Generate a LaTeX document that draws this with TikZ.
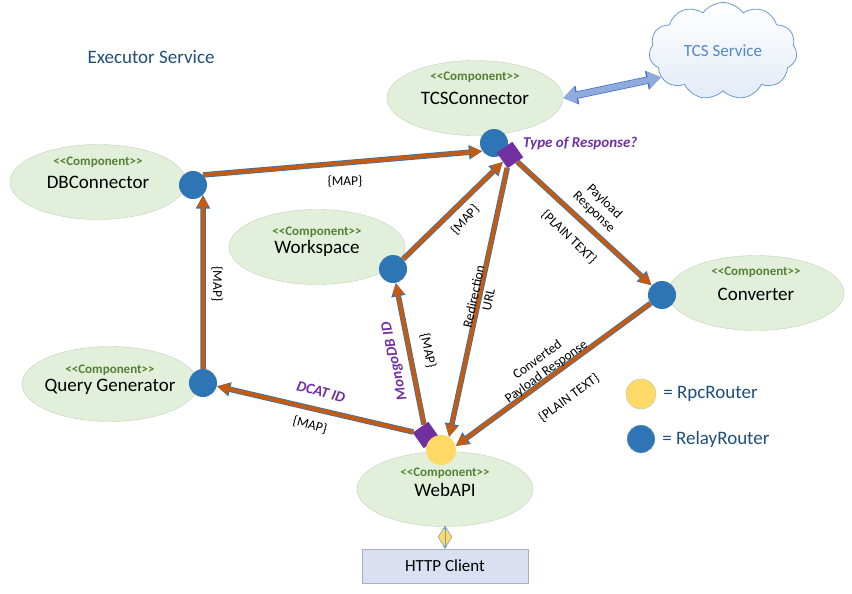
\documentclass[tikz,border=0pt]{standalone}
\usepackage{fontspec}
\setmainfont{Carlito}
\usetikzlibrary{shapes.geometric,shapes.symbols,arrows.meta,positioning}

\definecolor{compfill}{HTML}{E2EFDA}
\definecolor{compdraw}{HTML}{C3CFBA}
\definecolor{stereogreen}{HTML}{548235}
\definecolor{relayblue}{HTML}{2E75B6}
\definecolor{rpcyellow}{HTML}{FFD966}
\definecolor{choicepurple}{HTML}{7030A0}
\definecolor{flowor}{HTML}{C55A11}
\definecolor{titleblue}{HTML}{1F4E79}
\definecolor{cloudline}{HTML}{6C9BCF}
\definecolor{cloudlow}{HTML}{E3EBF6}
\definecolor{cloudtext}{HTML}{4F89C6}
\definecolor{clientfill}{HTML}{DAE0F2}
\definecolor{clientdraw}{HTML}{A3AFCB}
\definecolor{duplexfill}{HTML}{8FAADC}
\definecolor{duplexdraw}{HTML}{4472C4}
\definecolor{legendgray}{HTML}{BFBFBF}

\tikzset{
  comp/.style={ellipse, draw=compdraw, fill=compfill, minimum width=176pt, minimum height=75pt},
  cname/.style={anchor=base, font=\fontsize{19}{22}\selectfont},
  stereo/.style={anchor=base, text=stereogreen, font=\bfseries\fontsize{13}{15}\selectfont},
  relay/.style={circle, fill=relayblue, minimum size=28pt, inner sep=0pt},
  rpc/.style={circle, fill=rpcyellow, minimum size=30pt, inner sep=0pt},
  choice/.style={rectangle, fill=choicepurple, minimum size=19pt, inner sep=0pt, rotate=35},
  flow/.style={draw=flowor, line width=4pt, -{Triangle[length=12pt,width=11pt]},
    preaction={draw=relayblue, line width=5.5pt, -{Triangle[length=13.5pt,width=13.5pt]}}},
  duplex/.style={draw=duplexfill, line width=6pt,
    {Triangle[length=13pt,width=16pt]}-{Triangle[length=13pt,width=16pt]},
    preaction={draw=duplexdraw, line width=7.5pt,
      {Triangle[length=14.5pt,width=18.5pt]}-{Triangle[length=14.5pt,width=18.5pt]}}},
  lbl/.style={align=center, inner sep=1pt, font=\fontsize{13.5}{15}\selectfont},
  tag/.style={inner sep=1pt, text=choicepurple, font=\bfseries\itshape\fontsize{15}{18}\selectfont},
  title/.style={text=titleblue, font=\fontsize{19}{22}\selectfont},
  legend/.style={inner sep=1pt, text=titleblue, font=\fontsize{19}{22}\selectfont},
  cloudbox/.style={cloud, cloud puffs=11, cloud puff arc=110, aspect=1.45, draw=cloudline, thick,
    top color=white, bottom color=cloudlow, minimum width=148pt, minimum height=96pt,
    text=cloudtext, font=\fontsize{17}{20}\selectfont},
  client/.style={rectangle, draw=clientdraw, fill=clientfill, minimum width=166pt,
    minimum height=34pt, font=\fontsize{17}{20}\selectfont},
  hlink/.style={diamond, draw=relayblue!80, fill=rpcyellow, inner sep=0pt,
    minimum width=14pt, minimum height=22pt},
  linkline/.style={draw=relayblue!70, line width=0.6pt,
    {Stealth[length=3pt,width=4pt]}-{Stealth[length=3pt,width=4pt]}},
}

\begin{document}
\begin{tikzpicture}[x=1pt,y=-1pt]
    \useasboundingbox (0,0) rectangle (852,594);

    % Title and external service
    \node[title, anchor=west] (exec) at (84,57) {Executor Service};
    \node[cloudbox] (tcssvc) at (723,51) {TCS Service};

    % Components
    \node[comp] (tcs) at (475,98) {};
    \node[stereo] (tcsstereo) at (475,81) {<{}<Component>{}>};
    \node[cname] (tcsname) at (475,105) {TCSConnector};

    \node[comp] (db) at (98,182) {};
    \node[stereo] (dbstereo) at (98,165) {<{}<Component>{}>};
    \node[cname] (dbname) at (98,188.5) {DBConnector};

    \node[comp] (ws) at (317,247) {};
    \node[stereo] (wsstereo) at (317,235) {<{}<Component>{}>};
    \node[cname] (wsname) at (317,253.5) {Workspace};

    \node[comp] (qg) at (110,384) {};
    \node[stereo] (qgstereo) at (110,373) {<{}<Component>{}>};
    \node[cname] (qgname) at (110,391) {Query Generator};

    \node[comp] (conv) at (756,293) {};
    \node[stereo] (convstereo) at (756,275) {<{}<Component>{}>};
    \node[cname] (convname) at (756,300) {Converter};

    \node[comp] (webapi) at (445,489) {};
    \node[stereo] (webstereo) at (445,476) {<{}<Component>{}>};
    \node[cname] (webname) at (445,496) {WebAPI};

    % HTTP client
    \node[client] (http) at (445,566) {HTTP Client};
    \node[hlink] (hlk) at (445,537) {};
    \draw[linkline] (webapi) -- (http);

    % Routers
    \node[relay] (tcsr) at (494,143) {};
    \node[choice] (tcsd) at (510,155) {};
    \node[relay] (dbr) at (193,185) {};
    \node[relay] (wsr) at (393,269) {};
    \node[relay] (qgr) at (203,383) {};
    \node[relay] (convr) at (662,295) {};
    \node[choice] (webd) at (426,435) {};
    \node[rpc] (webr) at (441,450) {};

    % Messages
    \draw[flow] (dbr.45) -- (tcsr.215);
    \draw[flow] (wsr) -- (tcsd);
    \draw[flow] (tcsd) -- (webr.58);
    \draw[flow] (tcsd) -- (convr);
    \draw[flow] (convr) -- (webr.15);
    \draw[flow] (webd) -- (wsr);
    \draw[flow] (webd) -- (qgr);
    \draw[flow] (qgr.north) -- (dbr.-45);
    \draw[duplex] (tcs.east) -- (tcssvc.203);

    % Labels on the messages
    \node[tag, anchor=west] (resp) at (522,143) {Type of Response?};
    \node[lbl] (mapdb) at (345,182) {\{MAP\}};
    \node[lbl, rotate=48] (mapws) at (465,220) {\{MAP\}};
    \node[lbl, rotate=78] (redir) at (481,298) {Redirection\\URL};
    \node[lbl, rotate=-44] (payload) at (599,207) {Payload\\Response};
    \node[lbl, rotate=-44] (plainconv) at (569,237) {\{PLAIN TEXT\}};
    \node[lbl, rotate=36] (converted) at (542,366) {Converted\\Payload Response};
    \node[lbl, rotate=36] (plainweb) at (569,398) {\{PLAIN TEXT\}};
    \node[tag, rotate=102] (mongo) at (395,361) {MongoDB ID};
    \node[lbl, rotate=-78] (mapmongo) at (428,351) {\{MAP\}};
    \node[tag, rotate=-15] (dcat) at (321,392) {DCAT ID};
    \node[lbl, rotate=-15] (mapqg) at (310,425) {\{MAP\}};
    \node[lbl, rotate=-90] (mapup) at (217,284) {\{MAP\}};

    % Legend
    \node[rpc, draw=legendgray] (legrpc) at (641,394) {};
    \node[legend, right=6pt of legrpc] (legrpctext) {= RpcRouter};
    \node[relay, draw=legendgray] (legrelay) at (641,439) {};
    \node[legend, right=6pt of legrelay] (legrelaytext) {= RelayRouter};
\end{tikzpicture}
\end{document}
